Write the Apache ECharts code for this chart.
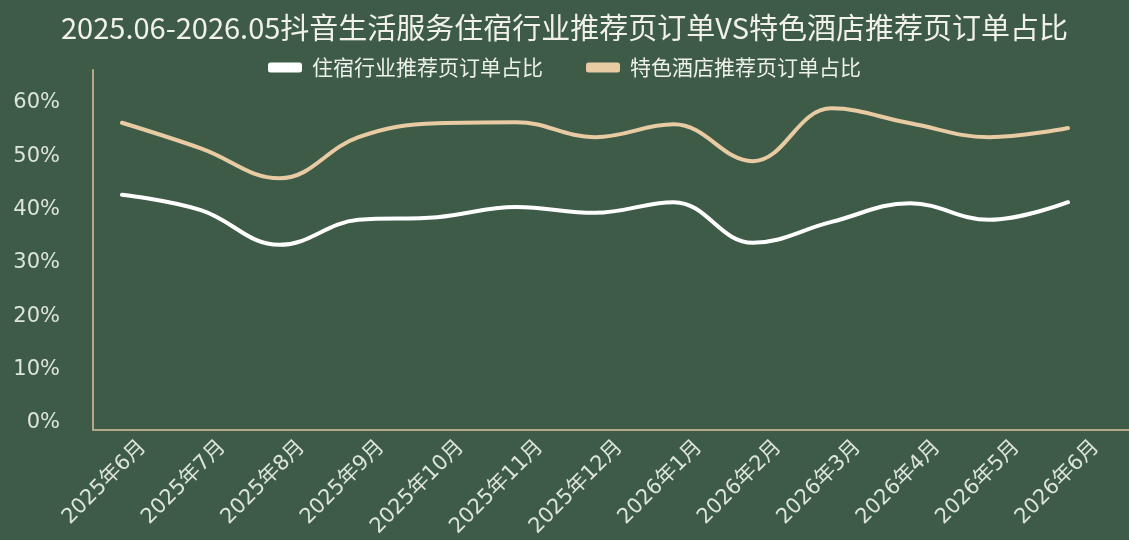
<!DOCTYPE html>
<html>
<head>
<meta charset="utf-8">
<script src="https://cdn.jsdelivr.net/npm/echarts@6/dist/echarts.min.js"></script>
<style>
html,body{margin:0;padding:0;background:#3d5b47;}
#c{width:1129px;height:540px;}
</style>
</head>
<body>
<div id="c"></div>
<script>
const titleText = '2025.06-2026.05抖音生活服务住宿行业推荐页订单VS特色酒店推荐页订单占比';
const categories = ['2025年6月','2025年7月','2025年8月','2025年9月','2025年10月','2025年11月','2025年12月','2026年1月','2026年2月','2026年3月','2026年4月','2026年5月','2026年6月'];
const seriesNames = ['住宿行业推荐页订单占比','特色酒店推荐页订单占比'];
const lodgingShare = [42.8, 39.9, 33.4, 38.1, 38.6, 40.5, 39.4, 41.4, 33.8, 37.7, 41.2, 38.1, 41.4];
const hotelShare   = [56.3, 51.5, 45.9, 53.6, 56.2, 56.4, 53.6, 56.0, 49.1, 59.0, 56.2, 53.6, 55.3];
const yTicks = [0, 10, 20, 30, 40, 50, 60];

const bg = '#3d5b47';
const white = '#ffffff';
const beige = '#e9cba3';
const axisColor = '#b3a98a';
const labelColor = '#dde4dc';
const fontFam = '"DejaVu Sans","Noto Sans CJK SC",sans-serif';

const chart = echarts.init(document.getElementById('c'));
chart.setOption({
  backgroundColor: bg,
  animation: false,
  title: {
    text: titleText,
    left: 'center',
    top: 8,
    textStyle: {color: '#f1f1ea', fontSize: 29, fontWeight: 'normal', fontFamily: '"Noto Sans CJK SC",sans-serif'}
  },
  legend: {
    data: seriesNames,
    top: 52,
    left: 'center',
    icon: 'roundRect',
    itemWidth: 34,
    itemHeight: 10,
    itemGap: 43,
    textStyle: {color: '#eef0ea', fontSize: 21, fontFamily: '"Noto Sans CJK SC",sans-serif', padding: [0,0,0,5]}
  },
  grid: [
    {left: 122, right: 61, top: 103, bottom: 117},
    {left: 93, right: 0, top: 70, bottom: 110},
    {left: 143, right: 33, top: 70, bottom: 110}
  ],
  xAxis: [
    {type: 'category', gridIndex: 0, data: categories, boundaryGap: false,
     axisLine: {show: false}, axisTick: {show: false}, axisLabel: {show: false}, splitLine: {show: false}},
    {type: 'category', gridIndex: 1, data: categories, boundaryGap: false,
     axisLine: {show: true, lineStyle: {color: axisColor, width: 2}}, axisTick: {show: false}, axisLabel: {show: false}},
    {type: 'category', gridIndex: 2, data: categories, boundaryGap: false,
     axisLine: {show: false}, axisTick: {show: false},
     axisLabel: {show: true, interval: 0, rotate: 45, margin: 30, color: labelColor, fontSize: 21, fontFamily: fontFam}}
  ],
  yAxis: [
    {type: 'value', gridIndex: 0, min: yTicks[0], max: yTicks[yTicks.length-1], interval: 10,
     axisLine: {show: false}, axisTick: {show: false}, splitLine: {show: false},
     axisLabel: {margin: 62, color: labelColor, fontSize: 21, fontFamily: fontFam, formatter: '{value}%'}},
    {type: 'value', gridIndex: 1, min: 0, max: 1,
     axisLine: {show: true, lineStyle: {color: axisColor, width: 2}}, axisTick: {show: false}, axisLabel: {show: false}, splitLine: {show: false}},
    {type: 'value', gridIndex: 2, min: 0, max: 1, show: false}
  ],
  series: [
    {name: seriesNames[0], type: 'line', xAxisIndex: 0, yAxisIndex: 0, data: lodgingShare,
     smooth: 0.4, showSymbol: false, color: white,
     lineStyle: {color: white, width: 4, cap: 'round'}, itemStyle: {color: white}},
    {name: seriesNames[1], type: 'line', xAxisIndex: 0, yAxisIndex: 0, data: hotelShare,
     smooth: 0.4, showSymbol: false, color: beige,
     lineStyle: {color: beige, width: 4, cap: 'round'}, itemStyle: {color: beige}}
  ]
});
</script>
</body>
</html>
